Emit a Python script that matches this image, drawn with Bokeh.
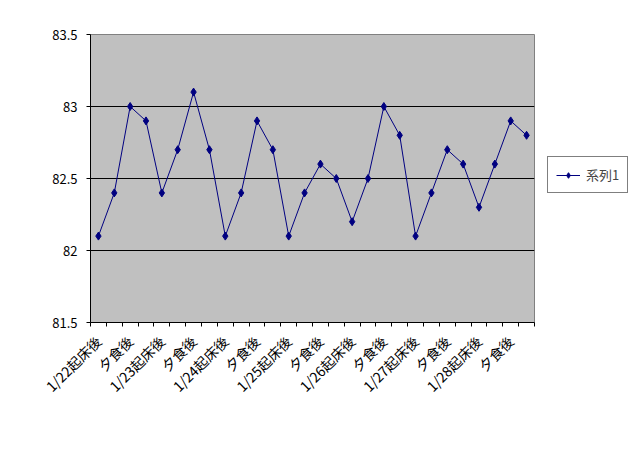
import math
from bokeh.plotting import figure
from bokeh.models import FixedTicker, Legend, LegendItem, Range1d
from bokeh.embed import file_html
from bokeh.resources import INLINE

categories = [
    "1/22起床後", "1/22朝食後", "夕食後", "1/22就寝前",
    "1/23起床後", "1/23朝食後", "夕食後", "1/23就寝前",
    "1/24起床後", "1/24朝食後", "夕食後", "1/24就寝前",
    "1/25起床後", "1/25朝食後", "夕食後", "1/25就寝前",
    "1/26起床後", "1/26朝食後", "夕食後", "1/26就寝前",
    "1/27起床後", "1/27朝食後", "夕食後", "1/27就寝前",
    "1/28起床後", "1/28朝食後", "夕食後", "1/28就寝前",
]
values = [82.1, 82.4, 83.0, 82.9, 82.4, 82.7, 83.1, 82.7,
          82.1, 82.4, 82.9, 82.7, 82.1, 82.4, 82.6, 82.5,
          82.2, 82.5, 83.0, 82.8, 82.1, 82.4, 82.7, 82.6,
          82.3, 82.6, 82.9, 82.8]
series_name = "系列1"
y_ticks = [81.5, 82.0, 82.5, 83.0, 83.5]
y_tick_labels = ["81.5", "82", "82.5", "83", "83.5"]

FONT = "Noto Sans CJK JP"
NAVY = "#000080"

xs = list(range(len(categories)))

p = figure(frame_width=444, frame_height=288, output_backend="svg", toolbar_location=None,
           x_range=Range1d(-0.5, len(categories) - 0.5),
           y_range=Range1d(y_ticks[0], y_ticks[-1]),
           min_border_left=90, min_border_right=93,
           min_border_top=34, min_border_bottom=116)
p.background_fill_color = "#C0C0C0"
p.border_fill_color = "white"
p.outline_line_color = "#808080"
p.outline_line_width = 1

line = p.line(xs, values, line_color=NAVY, line_width=1)
pts = p.scatter(xs, values, marker="diamond", size=8, fill_color=NAVY, line_color=NAVY)

# x axis
shown = [i for i in xs if i % 2 == 0]
p.xaxis.ticker = FixedTicker(ticks=shown, minor_ticks=[i - 0.5 for i in range(len(categories) + 1)])
p.xaxis.major_label_overrides = {i: categories[i] for i in shown}
p.xaxis.major_tick_line_color = None
p.xaxis.minor_tick_line_color = "black"
p.xaxis.minor_tick_out = 4
p.xaxis.minor_tick_in = 0
p.xaxis.major_label_orientation = math.pi / 4
p.xaxis.major_label_text_font = FONT
p.xaxis.major_label_text_font_size = "14px"
p.xaxis.major_label_text_color = "black"
p.xaxis.axis_line_color = "black"
p.xaxis.major_label_standoff = 10

# y axis
p.yaxis.ticker = FixedTicker(ticks=y_ticks)
p.yaxis.major_label_overrides = {t: l for t, l in zip(y_ticks, y_tick_labels)}
p.yaxis.minor_tick_line_color = None
p.yaxis.major_tick_out = 4
p.yaxis.major_tick_in = 0
p.yaxis.major_tick_line_color = "black"
p.yaxis.axis_line_color = "black"
p.yaxis.major_label_text_font = FONT
p.yaxis.major_label_text_font_size = "13px"
p.yaxis.major_label_text_color = "black"
p.yaxis.major_label_standoff = 9

p.xgrid.grid_line_color = None
p.ygrid.ticker = FixedTicker(ticks=y_ticks[1:-1])
p.ygrid.grid_line_color = "black"
p.ygrid.grid_line_width = 1

legend = Legend(items=[LegendItem(label=series_name, renderers=[line, pts])],
                location=(13, 129), border_line_color="black", border_line_width=1,
                background_fill_color="white", background_fill_alpha=1,
                label_text_font=FONT, label_text_font_size="13px",
                glyph_width=24, glyph_height=14, padding=8, margin=0,
                label_standoff=6, spacing=0)
p.add_layout(legend, "right")

open("out.html", "w").write(file_html(p, INLINE))
